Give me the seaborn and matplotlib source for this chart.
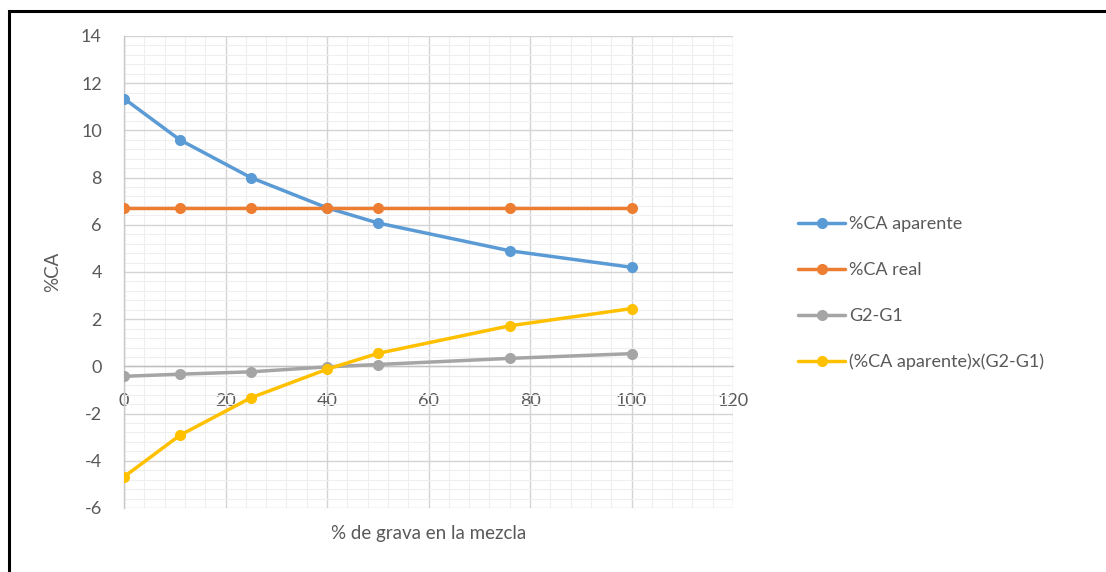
# -------------------------------------------------------
# %CA aparente vs % de grava en la mezcla (Excel-style chart)
# -------------------------------------------------------
import numpy as np
import pandas as pd
import matplotlib
matplotlib.use("Agg")
import matplotlib.pyplot as plt
from matplotlib.lines import Line2D
from matplotlib.patches import Rectangle
from matplotlib.ticker import MultipleLocator
import seaborn as sns

# Data
grava = [0, 11, 25, 40, 50, 76, 100]
ca_aparente = [11.35, 9.6, 8.0, 6.72, 6.08, 4.9, 4.2]
ca_real = [6.7, 6.7, 6.7, 6.7, 6.7, 6.7, 6.7]
g2_g1 = [-0.42, -0.33, -0.23, -0.02, 0.08, 0.34, 0.54]
producto = [-4.68, -2.92, -1.33, -0.12, 0.55, 1.72, 2.45]

series_names = ["%CA aparente", "%CA real", "G2-G1", "(%CA aparente)x(G2-G1)"]
series_colors = ["#5B9BD5", "#ED7D31", "#A5A5A5", "#FFC000"]

x_ticks = [0, 20, 40, 60, 80, 100, 120]
y_ticks = [-6, -4, -2, 0, 2, 4, 6, 8, 10, 12, 14]

TEXT_COLOR = "#595959"

# ✅ Build long-form table for seaborn
df = pd.DataFrame({"grava": grava,
                   series_names[0]: ca_aparente,
                   series_names[1]: ca_real,
                   series_names[2]: g2_g1,
                   series_names[3]: producto})
long_df = df.melt(id_vars="grava", var_name="serie", value_name="valor")

sns.set_theme(style="white")
plt.rcParams["font.family"] = ["Lato", "DejaVu Sans"]
plt.rcParams["axes.unicode_minus"] = False

fig = plt.figure(figsize=(11.06, 5.72), dpi=100)
ax = fig.add_axes([124 / 1106, 64 / 572, 609 / 1106, 472 / 572])

sns.lineplot(data=long_df, x="grava", y="valor", hue="serie",
             hue_order=series_names, palette=series_colors,
             marker="o", markersize=8, markeredgewidth=0, linewidth=2.5,
             legend=False, ax=ax, zorder=3)

# axes limits and ticks
ax.set_xlim(0, 120)
ax.set_ylim(-6, 14)
ax.set_xticks(x_ticks)
ax.set_yticks(y_ticks)
ax.xaxis.set_minor_locator(MultipleLocator(4))
ax.yaxis.set_minor_locator(MultipleLocator(0.4))

# grid
ax.grid(which="major", color="#d4d4d4", linewidth=1.0, zorder=0)
ax.grid(which="minor", color="#efefef", linewidth=0.8, zorder=0)

# spines: Excel-like, x axis crossing at y=0
for side in ["top", "right"]:
    ax.spines[side].set_visible(False)
ax.spines["left"].set_color("#c8c8c8")
ax.spines["bottom"].set_color("#c0c0c0")
ax.spines["bottom"].set_position(("data", 0))
ax.spines["left"].set_linewidth(1.0)
ax.spines["bottom"].set_linewidth(1.0)

ax.tick_params(axis="y", which="major", direction="out", length=7, width=1,
               color="#d4d4d4", labelsize=13, labelcolor=TEXT_COLOR, pad=9)
ax.tick_params(axis="x", which="major", length=0, labelsize=13,
               labelcolor=TEXT_COLOR, pad=19)
ax.tick_params(which="minor", length=0)

ax.set_xlabel("% de grava en la mezcla", fontsize=13.5, color=TEXT_COLOR)
ax.set_ylabel("%CA", fontsize=13.5, color=TEXT_COLOR, labelpad=14)
ax.xaxis.set_label_coords(0.5, -0.035)

# legend to the right
handles = [Line2D([0], [0], color=c, linewidth=2.5, marker="o", markersize=8,
                  markeredgewidth=0) for c in series_colors]
fig.legend(handles, series_names, loc="upper left",
           bbox_to_anchor=(782 / 1106, 1 - 200 / 572), frameon=False,
           fontsize=13, labelcolor=TEXT_COLOR, handlelength=2.6,
           handletextpad=0.2, labelspacing=1.65)

# chart-area border (only top and left visible in the reference crop)
fig.patches.append(Rectangle((9 / 1106, -0.1), 1.2, (1 - 11 / 572) + 0.1,
                             transform=fig.transFigure, fill=False,
                             edgecolor="black", linewidth=2.2))

fig.savefig("out.png", dpi=100)
